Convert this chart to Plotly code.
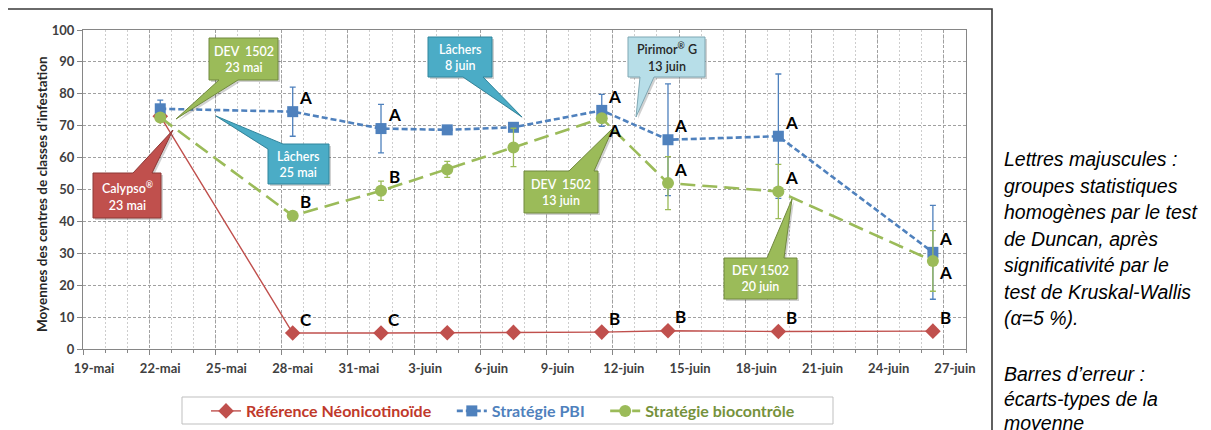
import numpy as np
import pandas as pd
import plotly.graph_objects as go

# ---------------- data ----------------
dates = ["2013-05-22", "2013-05-28", "2013-06-01", "2013-06-04", "2013-06-07",
         "2013-06-11", "2013-06-14", "2013-06-19", "2013-06-26"]
ref_vals = [73.0, 5.0, 5.0, 5.1, 5.2, 5.3, 5.7, 5.5, 5.6]
pbi_vals = [75.3, 74.4, 69.1, 68.7, 69.5, 74.8, 65.6, 66.7, 30.3]
pbi_err = [2.7, 7.7, 7.6, 0.8, 0.8, 5.0, 17.5, 19.5, 14.7]
bio_vals = [72.6, 41.8, 49.6, 56.3, 63.2, 72.3, 52.0, 49.4, 27.6]
bio_err = [0.8, 1.0, 3.0, 2.5, 6.0, 1.0, 8.3, 8.5, 9.5]

ref_letters = ["", "C", "C", "", "", "B", "B", "B", "B"]
pbi_letters = ["", "A", "A", "", "", "A", "A", "A", "A"]
bio_letters = ["", "B", "B", "", "", "A", "A", "A", "A"]

series_names = ["Référence Néonicotinoïde", "Stratégie PBI", "Stratégie biocontrôle"]
tick_labels = ["19-mai", "22-mai", "25-mai", "28-mai", "31-mai", "3-juin", "6-juin", "9-juin",
               "12-juin", "15-juin", "18-juin", "21-juin", "24-juin", "27-juin"]
y_title = "Moyennes des centres de classes d'infestation"

callout_texts = ["DEV  1502<br>23 mai", "Calypso<sup>®</sup><br>23 mai", "Lâchers<br>25 mai",
                 "Lâchers<br>8 juin", "Pirimor<sup>®</sup> G<br>13 juin", "DEV  1502<br>13 juin",
                 "DEV 1502<br>20 juin"]

note_lines_1 = ["Lettres majuscules :", "groupes statistiques", "homogènes par le test",
                "de Duncan, après", "significativité par le", "test de Kruskal-Wallis", "(α=5 %)."]
note_lines_2 = ["Barres d’erreur :", "écarts-types de la", "moyenne"]

# ---------------- geometry helpers (screen pixels) ----------------
W, H = 1211, 430
OFF = 8                      # page body margin of the browser
PL, PR, PT, PB = 83, 966, 30, 349
XMAX, YMAX = 40, 100
DAYPX = (PR - PL) / XMAX
start = pd.Timestamp("2013-05-19")
# date axis "between tick marks": each day is a cell, points sit at the cell centre
x = ((pd.to_datetime(dates) - start) / pd.Timedelta(days=1)).to_numpy() + 0.5


def dx(px):
    return (px - PL) * XMAX / (PR - PL)


def dy(py):
    return (PB - py) * YMAX / (PB - PT)


def paper_x(px):
    return (px - PL) / (PR - PL)


def paper_y(py):
    return (PB - py) / (PB - PT)


def callout_path(box, side, base, tip, off=(0, 0)):
    x0, y0, x1, y1 = box
    if side == "bottom":
        pts = [(x0, y0), (x1, y0), (x1, y1), (base[1], y1), tip, (base[0], y1), (x0, y1)]
    elif side == "top":
        pts = [(x0, y0), (base[0], y0), tip, (base[1], y0), (x1, y0), (x1, y1), (x0, y1)]
    else:  # top-left corner
        pts = [(x0, base[0]), tip, (base[1], y0), (x1, y0), (x1, y1), (x0, y1)]
    pts = [(p[0] + off[0], p[1] + off[1]) for p in pts]
    return "M " + " L ".join(f"{dx(a):.4f},{dy(b):.4f}" for a, b in pts) + " Z"


GREEN_F, GREEN_B = "#9BBB59", "#71893F"
RED_F, RED_B = "#C0504D", "#8C3836"
TEAL_F, TEAL_B = "#4BACC6", "#31859C"
LBLUE_F, LBLUE_B = "#B7DEE8", "#7FA7B3"

callouts = [
    dict(box=(209, 38, 278, 80), side="bottom", base=(219, 238), tip=(176, 119), fill=GREEN_F, line=GREEN_B, fc="white"),
    dict(box=(93, 173, 161, 218), side="top", base=(133, 152), tip=(173, 130), fill=RED_F, line=RED_B, fc="white"),
    dict(box=(268, 144, 329, 184), side="tl", base=(149, 283), tip=(216, 116), fill=TEAL_F, line=TEAL_B, fc="white"),
    dict(box=(428, 37, 492, 77), side="bottom", base=(463, 483), tip=(522, 117), fill=TEAL_F, line=TEAL_B, fc="white"),
    dict(box=(628, 37, 705, 77), side="bottom", base=(640, 654), tip=(636, 117), fill=LBLUE_F, line=LBLUE_B, fc="#262626"),
    dict(box=(524, 171, 598, 213), side="top", base=(569, 594), tip=(613, 128), fill=GREEN_F, line=GREEN_B, fc="white"),
    dict(box=(724, 258, 797, 299), side="top", base=(767, 784), tip=(792, 199), fill=GREEN_F, line=GREEN_B, fc="white"),
]

# ---------------- figure ----------------
fig = go.Figure()

RED, BLUE, GREEN = "#C0504D", "#4F81BD", "#9BBB59"
legend_colors = ["#C0392B", "#4F81BD", "#76923C"]
PAD = "\u00a0" * 4

fig.add_trace(go.Scatter(
    x=x, y=ref_vals, mode="lines+markers",
    name=f"<span style='color:{legend_colors[0]}'>{series_names[0]}{PAD}</span>",
    line=dict(color=RED, width=1.4),
    marker=dict(symbol="diamond", size=12, color=RED),
))
fig.add_trace(go.Scatter(
    x=x, y=pbi_vals, mode="lines+markers",
    name=f"<span style='color:{legend_colors[1]}'>{series_names[1]}{PAD}</span>",
    line=dict(color=BLUE, width=2.6, dash="6px,3px"),
    marker=dict(symbol="square", size=11, color=BLUE),
    error_y=dict(type="data", array=pbi_err, color=BLUE, thickness=1.3, width=3),
))
fig.add_trace(go.Scatter(
    x=x, y=bio_vals, mode="lines+markers",
    name=f"<span style='color:{legend_colors[2]}'>{series_names[2]}</span>",
    line=dict(color=GREEN, width=2.6, dash="15px,7px"),
    marker=dict(symbol="circle", size=12, color=GREEN),
    error_y=dict(type="data", array=bio_err, color=GREEN, thickness=1.3, width=3),
))

shapes = []
annotations = []

# callouts
for c, txt in zip(callouts, callout_texts):
    shapes.append(dict(type="path", xref="x", yref="y",
                       path=callout_path(c["box"], c["side"], c["base"], c["tip"], off=(2, 2)),
                       fillcolor="rgba(0,0,0,0.18)", line=dict(width=0)))
    shapes.append(dict(type="path", xref="x", yref="y",
                       path=callout_path(c["box"], c["side"], c["base"], c["tip"]),
                       fillcolor=c["fill"], line=dict(color=c["line"], width=1)))
    x0, y0, x1, y1 = c["box"]
    annotations.append(dict(x=dx((x0 + x1) / 2), y=dy((y0 + y1) / 2), xref="x", yref="y",
                            text=txt, showarrow=False, align="center",
                            font=dict(family="Lato", size=12.5, color=c["fc"], weight=600)))

# significance letters
below = {(2, 5), (2, 8)}
for si, (vals, letters) in enumerate([(ref_vals, ref_letters), (pbi_vals, pbi_letters), (bio_vals, bio_letters)]):
    for i, (xv, yv, lt) in enumerate(zip(x, vals, letters)):
        if not lt:
            continue
        ys = -12 if (si, i) in below else 14
        annotations.append(dict(x=xv, y=yv, xref="x", yref="y", text=lt, showarrow=False,
                                xshift=13, yshift=ys,
                                font=dict(family="Lato", size=17, color="#000000", weight="bold")))

# y axis title
annotations.append(dict(x=paper_x(32), y=paper_y(194), xref="paper", yref="paper",
                        text=y_title, textangle=-90, showarrow=False,
                        font=dict(family="Lato", size=13.5, color="#262626", weight="bold")))

# side note
NOTE_FONT = dict(family="Liberation Sans, Arial", size=19.5, color="#000000", style="italic")
for k, line in enumerate(note_lines_1):
    annotations.append(dict(x=paper_x(1002), y=paper_y(159 + k * 26.5), xref="paper", yref="paper",
                            xanchor="left", yanchor="middle", text=line,
                            showarrow=False, font=NOTE_FONT))
for k, line in enumerate(note_lines_2):
    annotations.append(dict(x=paper_x(1002), y=paper_y(374 + k * 24.5), xref="paper", yref="paper",
                            xanchor="left", yanchor="middle", text=line,
                            showarrow=False, font=NOTE_FONT))

# legend frame
shapes.append(dict(type="rect", xref="paper", yref="paper",
                   x0=paper_x(182), x1=paper_x(833), y0=paper_y(424), y1=paper_y(397),
                   line=dict(color="#BFBFBF", width=1), fillcolor="white", layer="below"))

# outer frame
shapes.append(dict(type="rect", xref="paper", yref="paper",
                   x0=paper_x(7), x1=paper_x(992), y0=paper_y(450), y1=paper_y(9),
                   line=dict(color="#3a3a3a", width=1.6), fillcolor="rgba(0,0,0,0)"))

axis_font = dict(family="Lato", size=13, color="#404040", weight="bold")
fig.update_layout(
    width=W, height=H, autosize=False,
    margin=dict(l=PL - OFF, r=W - (PR - OFF), t=PT - OFF, b=H - (PB - OFF), autoexpand=False),
    paper_bgcolor="white", plot_bgcolor="white",
    showlegend=True,
    legend=dict(orientation="h", x=paper_x(206), y=paper_y(411), xanchor="left", yanchor="middle",
                bgcolor="rgba(0,0,0,0)", borderwidth=0,
                font=dict(family="Lato", size=16, weight="bold"),
                itemwidth=30, tracegroupgap=0),
    shapes=shapes, annotations=annotations,
    xaxis=dict(range=[0, XMAX], tickmode="array", tickvals=np.arange(0, 40, 3).tolist(),
               ticktext=tick_labels, tickfont=axis_font, automargin=False,
               ticklabelshift=round(0.5 * DAYPX), ticklabelstandoff=2,
               showgrid=True, gridcolor="#A0A0A0", griddash="3px,2px", gridwidth=1,
               ticks="outside", ticklen=5, tickcolor="#868686",
               minor=dict(dtick=1, tick0=0, showgrid=True, gridcolor="#CDCDCD", griddash="2px,2px",
                          ticks="outside", ticklen=3, tickcolor="#868686"),
               showline=True, linecolor="#868686", linewidth=1.2, mirror=True,
               zeroline=False, fixedrange=True),
    yaxis=dict(range=[0, YMAX], dtick=10, tickfont=axis_font, automargin=False,
               showgrid=True, gridcolor="#A0A0A0", griddash="3px,2px", gridwidth=1,
               ticks="outside", ticklen=5, tickcolor="#868686",
               showline=True, linecolor="#868686", linewidth=1.2, mirror=True,
               zeroline=False, fixedrange=True),
)

fig.write_html("out.html")
